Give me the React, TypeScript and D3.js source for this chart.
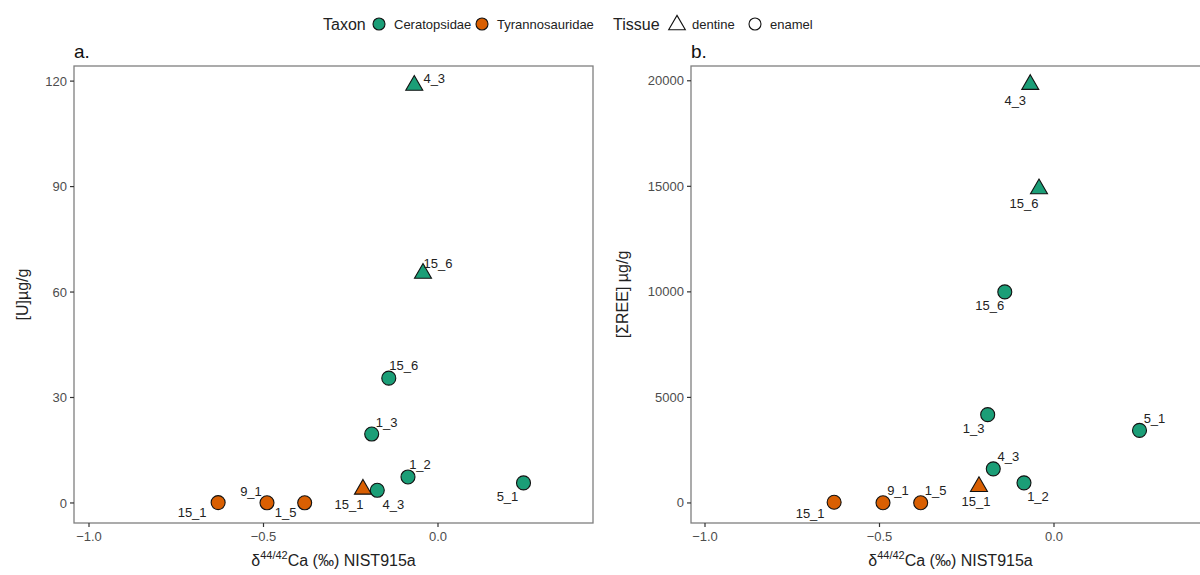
import React from "react";
import * as d3 from "d3";

// ---- data ----
const sampleIds = ["4_3", "15_6", "15_6", "1_3", "1_2", "4_3", "5_1", "15_1", "9_1", "1_5", "15_1"];
const taxon = ["Ceratopsidae", "Ceratopsidae", "Ceratopsidae", "Ceratopsidae", "Ceratopsidae", "Ceratopsidae", "Ceratopsidae", "Tyrannosauridae", "Tyrannosauridae", "Tyrannosauridae", "Tyrannosauridae"];
const tissue = ["dentine", "dentine", "enamel", "enamel", "enamel", "enamel", "enamel", "enamel", "enamel", "enamel", "dentine"];
const deltaCa = [-0.068, -0.043, -0.141, -0.19, -0.086, -0.174, 0.245, -0.63, -0.49, -0.382, -0.215];
const uranium = [118.8, 65.3, 35.5, 19.6, 7.4, 3.6, 5.7, 0.1, 0.05, 0.05, 3.9];
const sumREE = [19824, 14880, 9998, 4183, 951, 1616, 3437, 33, 10, 10, 775];

const xTicks = [-1.0, -0.5, 0.0];
const uTicks = [0, 30, 60, 90, 120];
const reeTicks = [0, 5000, 10000, 15000, 20000];

const taxonLevels = ["Ceratopsidae", "Tyrannosauridae"];
const tissueLevels = ["dentine", "enamel"];

// label layout (repel offsets in px), separate from data
const labelOffsetA: [number, number][] = [
  [20, -7], [15, -10], [15, -13], [15, -12], [12, -12], [16, 14], [-16, 14], [-26, 10], [-16, -11], [-19, 10], [-14, 15],
];
const labelOffsetB: [number, number][] = [
  [-15, 16], [-15, 15], [-15, 14], [-14, 14], [14, 14], [15, -12], [15, -12], [-24, 11], [15, -12], [15, -12], [-3, 15],
];

const colorScale = d3.scaleOrdinal<string, string>().domain(taxonLevels).range(["#1b9e77", "#d95f02"]);
const FONT = "'Liberation Sans', Arial, sans-serif";
const triPath = d3.symbol().type(d3.symbolTriangle).size(125)() as string;

type PanelProps = {
  left: number;
  right: number;
  top: number;
  bottom: number;
  xDomain: [number, number];
  yDomain: [number, number];
  yValues: number[];
  yTicks: number[];
  yTitle: string;
  yTitleX: number;
  tag: string;
  offsets: [number, number][];
};

function Panel(p: PanelProps) {
  const x = d3.scaleLinear().domain(p.xDomain).range([p.left, p.right]);
  const y = d3.scaleLinear().domain(p.yDomain).range([p.bottom, p.top]);
  const cx = (p.left + p.right) / 2;
  const cy = (p.top + p.bottom) / 2;
  const tickColor = "#4d4d4d";
  return (
    <g>
      <rect x={p.left} y={p.top} width={p.right - p.left} height={p.bottom - p.top} fill="white" stroke="#7f7f7f" strokeWidth={1.3} />
      <text x={p.left} y={58} fontSize={19} fill="#111" fontFamily={FONT}>{p.tag}</text>
      {p.yTicks.map((t) => (
        <g key={"y" + t}>
          <line x1={p.left - 4} x2={p.left} y1={y(t)} y2={y(t)} stroke="#333" strokeWidth={1.2} />
          <text x={p.left - 7} y={y(t)} dy="0.35em" textAnchor="end" fontSize={13} fill={tickColor} fontFamily={FONT}>
            {d3.format("d")(t)}
          </text>
        </g>
      ))}
      {xTicks.map((t) => (
        <g key={"x" + t}>
          <line x1={x(t)} x2={x(t)} y1={p.bottom} y2={p.bottom + 4} stroke="#333" strokeWidth={1.2} />
          <text x={x(t)} y={p.bottom + 18} textAnchor="middle" fontSize={13} fill={tickColor} fontFamily={FONT}>
            {d3.format(".1f")(t)}
          </text>
        </g>
      ))}
      <text x={cx} y={p.bottom + 43} textAnchor="middle" fontSize={16} fill="#222" fontFamily={FONT}>
        δ<tspan fontSize={11} dy={-7}>44/42</tspan>
        <tspan dy={7}>Ca (‰) NIST915a</tspan>
      </text>
      <text transform={`translate(${p.yTitleX},${cy}) rotate(-90)`} textAnchor="middle" fontSize={16} fill="#222" fontFamily={FONT}>
        {p.yTitle}
      </text>
      {sampleIds.map((id, i) => {
        const px = x(deltaCa[i]);
        const py = y(p.yValues[i]);
        const fill = colorScale(taxon[i]);
        return tissue[i] === "dentine" ? (
          <path key={"m" + i} d={triPath} transform={`translate(${px},${py})`} fill={fill} stroke="#111" strokeWidth={1.1} />
        ) : (
          <circle key={"m" + i} cx={px} cy={py} r={7} fill={fill} stroke="#111" strokeWidth={1.1} />
        );
      })}
      {sampleIds.map((id, i) => (
        <text
          key={"l" + i}
          x={x(deltaCa[i]) + p.offsets[i][0]}
          y={y(p.yValues[i]) + p.offsets[i][1]}
          dy="0.35em"
          textAnchor="middle"
          fontSize={13}
          fill="#222"
          fontFamily={FONT}
        >
          {id}
        </text>
      ))}
    </g>
  );
}

function Legend() {
  const y0 = 24;
  return (
    <g fontFamily={FONT}>
      <text x={323} y={y0} dy="0.35em" fontSize={16} fill="#222">Taxon</text>
      {taxonLevels.map((t, i) => {
        const cxs = [379, 482];
        return (
          <g key={t}>
            <circle cx={cxs[i]} cy={y0} r={6} fill={colorScale(t)} stroke="#111" strokeWidth={1.1} />
            <text x={cxs[i] + 15} y={y0} dy="0.35em" fontSize={13} fill="#222">{t}</text>
          </g>
        );
      })}
      <text x={613} y={y0} dy="0.35em" fontSize={16} fill="#222">Tissue</text>
      {tissueLevels.map((t, i) => {
        const cxs = [677, 755];
        return (
          <g key={t}>
            {t === "dentine" ? (
              <path d={d3.symbol().type(d3.symbolTriangle).size(120)() as string} transform={`translate(${cxs[i]},${y0 + 1})`} fill="none" stroke="#111" strokeWidth={1.1} />
            ) : (
              <circle cx={cxs[i]} cy={y0} r={6} fill="none" stroke="#111" strokeWidth={1.1} />
            )}
            <text x={cxs[i] + 15} y={y0} dy="0.35em" fontSize={13} fill="#222">{t}</text>
          </g>
        );
      })}
    </g>
  );
}

export default function App() {
  // x scale: 349 px per unit, 0.0 at 438 (panel a) and 1054 (panel b)
  const xDomA: [number, number] = [(74 - 438) / 349, (593 - 438) / 349];
  const xDomB: [number, number] = [(691 - 1054) / 349, (1210 - 1054) / 349];
  const uDom: [number, number] = [-5.7, 124.3];
  const reeDom: [number, number] = [-950, 20700];
  return (
    <svg width={1200} height={575} style={{ position: "absolute", left: 0, top: 0, background: "white" }}>
      <Legend />
      <Panel
        left={74}
        right={593}
        top={66}
        bottom={523}
        xDomain={xDomA}
        yDomain={uDom}
        yValues={uranium}
        yTicks={uTicks}
        yTitle="[U]µg/g"
        yTitleX={28}
        tag="a."
        offsets={labelOffsetA}
      />
      <Panel
        left={691}
        right={1210}
        top={66}
        bottom={523}
        xDomain={xDomB}
        yDomain={reeDom}
        yValues={sumREE}
        yTicks={reeTicks}
        yTitle="[ΣREE] µg/g"
        yTitleX={628}
        tag="b."
        offsets={labelOffsetB}
      />
    </svg>
  );
}
